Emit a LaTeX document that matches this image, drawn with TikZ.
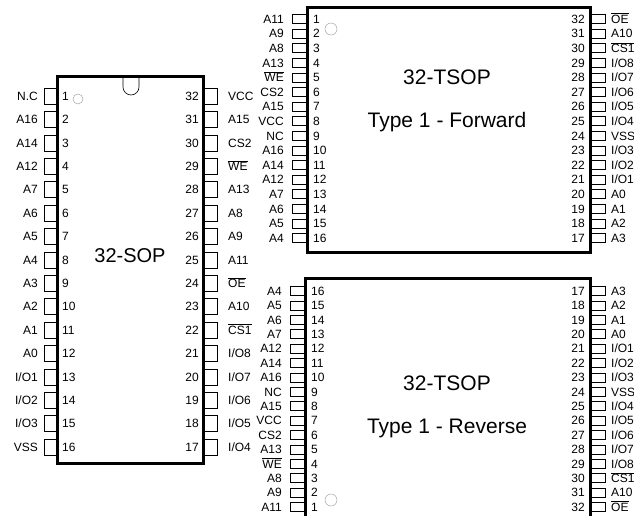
\documentclass[tikz,border=0pt]{standalone}
\usepackage{fontspec}
\setmainfont{Liberation Sans}
\usetikzlibrary{positioning}
\newcommand{\barsig}[1]{$\overline{\mbox{#1}}$}

\begin{document}
\begin{tikzpicture}[x=1pt,y=-1pt,
  chip/.style={draw,line width=3pt,inner sep=0pt,outer sep=0pt,anchor=north west},
  sopbox/.style={draw,line width=0.5pt,minimum width=13pt,minimum height=16pt,inner sep=0pt,outer sep=0pt},
  tsopbox/.style={draw,line width=0.5pt,minimum width=15pt,minimum height=9pt,inner sep=0pt,outer sep=0pt},
  soptext/.style={font=\fontsize{12}{12}\selectfont,inner sep=0pt,text height=8.6pt,text depth=0pt},
  tsoptext/.style={font=\fontsize{12}{12}\selectfont,inner sep=0pt,text height=8.6pt,text depth=0pt},
  title/.style={font=\fontsize{21}{21}\selectfont,inner sep=0pt},
  dot/.style={circle,draw=gray!70,line width=0.5pt,inner sep=0pt}]
\clip (0,0) rectangle (634,516);

% 32-SOP
\node[chip,minimum width=146pt,minimum height=386pt] (sop) at (57,77) {};
\draw[line width=0.6pt] (123,77) -- (123,87) arc (180:0:8) -- (139,77);
\node[dot,minimum size=10pt] (sopdot) at (78,99) {};
\node[title,font=\fontsize{20}{20}\selectfont] (sopname) at (130,256) {32-SOP};
\foreach \lab [count=\i] in {N.C,A16,A14,A12,A7,A6,A5,A4,A3,A2,A1,A0,I/O1,I/O2,I/O3,VSS}{
  \node[sopbox,anchor=east] (sl\i) at (57,{96+(\i-1)*23.4}) {};
  \node[soptext,left=6pt of sl\i] (slt\i) {\lab};
  \node[soptext,right=5pt of sl\i] (sln\i) {\i};
}
\foreach \lab [count=\i] in {VCC,A15,CS2,\barsig{WE},A13,A8,A9,A11,\barsig{OE},A10,\barsig{CS1},I/O8,I/O7,I/O6,I/O5,I/O4}{
  \pgfmathtruncatemacro{\p}{33-\i}
  \node[sopbox,anchor=west,minimum width=14pt] (sr\p) at (203,{96+(\i-1)*23.4}) {};
  \node[soptext,right=11pt of sr\p] (srt\p) {\lab};
  \node[soptext,left=4pt of sr\p] (srn\p) {\p};
}

% 32-TSOP forward
\node[chip,minimum width=283pt,minimum height=244pt] (fwd) at (307,8) {};
\node[dot,minimum size=12pt] (fwddot) at (331,29) {};
\node[title] (fwdname) at (447,77) {32-TSOP};
\node[title] (fwdtype) at (447,122) {Type 1 - Forward};
\foreach \lab [count=\i] in {A11,A9,A8,A13,\barsig{WE},CS2,A15,VCC,NC,A16,A14,A12,A7,A6,A5,A4}{
  \node[tsopbox,anchor=east] (fl\i) at (307,{19+(\i-1)*14.6}) {};
  \node[tsoptext,left=8pt of fl\i] (flt\i) {\lab};
  \node[tsoptext,right=6pt of fl\i] (fln\i) {\i};
}
\foreach \lab [count=\i] in {\barsig{OE},A10,\barsig{CS1},I/O8,I/O7,I/O6,I/O5,I/O4,VSS,I/O3,I/O2,I/O1,A0,A1,A2,A3}{
  \pgfmathtruncatemacro{\p}{33-\i}
  \node[tsopbox,anchor=west] (fr\p) at (590,{19+(\i-1)*14.6}) {};
  \node[tsoptext,right=6pt of fr\p] (frt\p) {\lab};
  \node[tsoptext,left=5pt of fr\p] (frn\p) {\p};
}

% 32-TSOP reverse
\node[chip,minimum width=285pt,minimum height=260pt] (rev) at (305,278) {};
\node[dot,minimum size=12pt] (revdot) at (331,500) {};
\node[title] (revname) at (447,383) {32-TSOP};
\node[title] (revtype) at (447,428) {Type 1 - Reverse};
\foreach \lab [count=\i] in {A11,A9,A8,\barsig{WE},A13,CS2,VCC,A15,NC,A16,A14,A12,A7,A6,A5,A4}{
  \node[tsopbox,anchor=east] (rl\i) at (305,{507-(\i-1)*14.4}) {};
  \node[tsoptext,left=8pt of rl\i] (rlt\i) {\lab};
  \node[tsoptext,right=6pt of rl\i] (rln\i) {\i};
}
\foreach \lab [count=\i] in {A3,A2,A1,A0,I/O1,I/O2,I/O3,VSS,I/O4,I/O5,I/O6,I/O7,I/O8,\barsig{CS1},A10,\barsig{OE}}{
  \pgfmathtruncatemacro{\p}{16+\i}
  \node[tsopbox,anchor=west] (rr\p) at (590,{291+(\i-1)*14.4}) {};
  \node[tsoptext,right=6pt of rr\p] (rrt\p) {\lab};
  \node[tsoptext,left=5pt of rr\p] (rrn\p) {\p};
}
\end{tikzpicture}
\end{document}
